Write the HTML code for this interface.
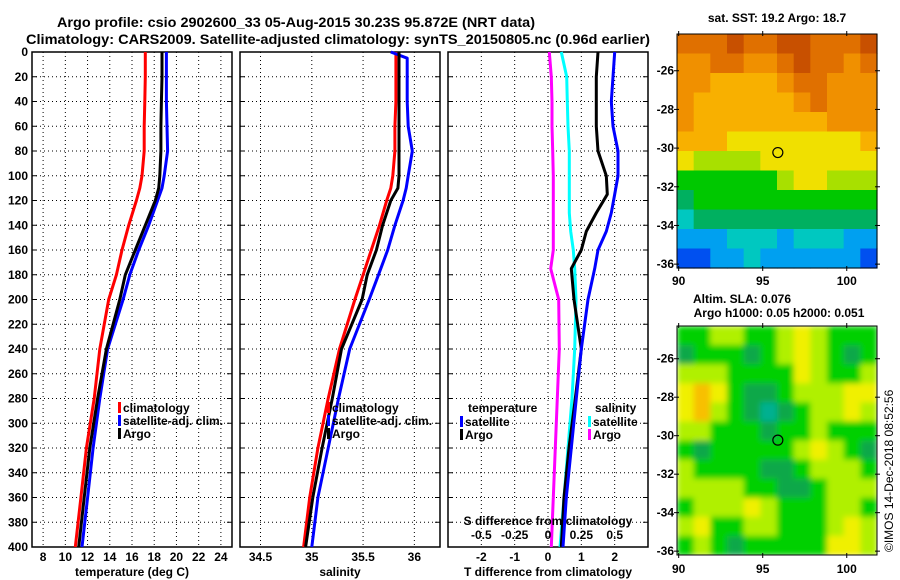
<!DOCTYPE html>
<html><head><meta charset="utf-8"><style>
html,body{margin:0;padding:0;background:#fff;}
svg{display:block;font-family:"Liberation Sans",sans-serif;font-weight:bold;}
</style></head><body>
<svg id="fig" width="900" height="580" viewBox="0 0 900 580" xmlns="http://www.w3.org/2000/svg">
<defs>
<filter id="smooth" x="-5%" y="-5%" width="110%" height="110%"><feGaussianBlur stdDeviation="3" edgeMode="duplicate"/></filter>
<clipPath id="slaClip"><rect x="677" y="326" width="200" height="229"/></clipPath>
</defs>
<text x="57" y="27" font-size="14" textLength="478" lengthAdjust="spacingAndGlyphs">Argo profile: csio 2902600_33 05-Aug-2015 30.23S 95.872E (NRT data)</text>
<text x="26" y="44" font-size="14" textLength="624" lengthAdjust="spacingAndGlyphs">Climatology: CARS2009. Satellite-adjusted climatology: synTS_20150805.nc (0.96d earlier)</text>
<text x="777" y="22" font-size="12" text-anchor="middle">sat. SST: 19.2 Argo: 18.7</text>
<text x="742" y="303" font-size="12" text-anchor="middle">Altim. SLA: 0.076</text>
<text x="779" y="317" font-size="12" text-anchor="middle">Argo h1000: 0.05 h2000: 0.051</text>
<text transform="translate(893,552) rotate(-90)" font-size="12" font-weight="normal">©IMOS 14-Dec-2018 08:52:56</text>
</svg>
<script>
// ---- data ----
const depths=[0,20,40,60,80,100,110,120,140,160,180,200,240,280,320,360,400];
const tempClim=[17.2,17.2,17.15,17.1,17.1,16.9,16.7,16.4,15.7,15.1,14.6,13.9,13.1,12.6,11.9,11.4,10.9];
const tempSat=[19.1,19.1,19.1,19.15,19.2,18.9,18.7,18.3,17.5,16.6,15.8,15.2,13.8,13.1,12.5,12.0,11.5];
const tempArgo=[18.7,18.7,18.65,18.6,18.6,18.5,18.4,18.1,17.2,16.3,15.4,14.9,13.7,12.9,12.2,11.7,11.2];
const depthsS=[0,5,20,40,60,80,100,110,120,140,160,180,200,240,280,320,360,400];
const salClim=[35.82,35.82,35.82,35.82,35.81,35.81,35.79,35.77,35.73,35.66,35.58,35.50,35.42,35.27,35.16,35.06,34.98,34.92];
const salSat=[35.77,35.93,35.93,35.93,35.94,35.98,35.94,35.92,35.89,35.81,35.74,35.65,35.56,35.37,35.26,35.16,35.06,35.00];
const salArgo=[35.85,35.85,35.85,35.85,35.85,35.85,35.85,35.84,35.77,35.69,35.63,35.54,35.49,35.29,35.20,35.10,35.01,34.94];
const dDepths=[0,20,40,60,80,100,115,130,145,160,175,200,240,280,320,360,400];
const dTSat=[2.0,1.95,1.9,1.95,2.1,2.1,2.0,1.9,1.75,1.5,1.4,1.2,1.0,0.85,0.7,0.55,0.45];
const dTArgo=[1.5,1.45,1.45,1.45,1.5,1.75,1.78,1.45,1.15,1.0,0.7,0.78,1.0,0.82,0.63,0.48,0.4];
const dSSat=[0.10,0.14,0.145,0.15,0.16,0.16,0.16,0.16,0.17,0.19,0.2,0.21,0.2,0.18,0.15,0.12,0.09];
const dSArgo=[0.01,0.025,0.03,0.03,0.035,0.04,0.04,0.04,0.04,0.04,0.02,0.08,0.085,0.07,0.055,0.04,0.025];
const depthTicks=[0,20,40,60,80,100,120,140,160,180,200,220,240,260,280,300,320,340,360,380,400];
const tempTicks=[8,10,12,14,16,18,20,22,24];
const salTicks=[34.5,35,35.5,36];
const salTickLabels=["34.5","35","35.5","36"];
const dTTicks=[-2,-1,0,1,2];
const dSTicks=[-0.5,-0.25,0,0.25,0.5];
const dSTickLabels=["-0.5","-0.25","0","0.25","0.5"];
const lonTicks=[90,95,100];
const latTicks=[-26,-28,-30,-32,-34,-36];
const argoLon=95.9, argoLat=-30.23;
const sstGrid=[
[10,10,10,11,10,10,11,11,10,10,10,11],
[9,9,10,10,9,9,10,11,10,10,9,10],
[9,9,8,8,8,8,9,10,10,9,9,9],
[9,8,8,8,8,8,8,9,10,9,9,9],
[9,8,8,8,8,8,8,8,8,9,9,9],
[8,8,8,7,7,7,7,7,7,7,7,8],
[7,6,6,6,6,7,7,7,7,7,7,7],
[5,5,5,5,5,5,6,7,7,6,6,6],
[4,5,5,5,5,5,5,5,5,5,5,5],
[3,4,4,4,4,4,4,4,4,4,4,4],
[2,2,2,3,3,3,2,3,3,3,2,2],
[1,1,2,2,3,2,2,2,2,2,2,1]];
const slaGrid=[
[5,5,6,6,5,5,6,7,6,5,5,5],
[4,5,5,5,4,5,6,7,6,5,4,5],
[6,6,6,5,5,5,5,7,6,5,5,6],
[7,8,7,5,4,4,5,6,6,6,7,7],
[7,8,6,5,4,3,4,5,6,6,7,6],
[6,6,5,5,5,4,5,5,6,5,5,5],
[5,4,5,5,5,5,5,6,7,6,5,4],
[6,5,5,5,5,4,4,5,6,6,6,5],
[6,6,6,6,5,5,4,4,5,6,6,6],
[5,6,6,6,7,6,5,5,5,6,6,5],
[6,7,5,5,6,6,5,5,5,6,7,6],
[5,6,5,4,5,5,5,5,5,7,7,6]];
const sstColors=["#0010a0","#0050f0","#00a0f0","#00c8c0","#00b060","#00c800","#a8e000","#f0e000","#f8b000","#f09000","#e07000","#c85000"];
const slaColors=["#00b0a0","#00b0a0","#00b0a0","#00b090","#10a848","#00d000","#b0f000","#f0f000","#f8c000","#f8c000","#f8c000","#f8c000"];

// ---- drawing ----
const NS="http://www.w3.org/2000/svg";
const svg=document.getElementById('fig');
function mk(tag,attrs,parent){const e=document.createElementNS(NS,tag);for(const k in attrs)e.setAttribute(k,attrs[k]);(parent||svg).appendChild(e);return e;}
function txt(s,x,y,size,anchor,parent){const t=mk('text',{x:x,y:y,'font-size':size,'text-anchor':anchor||'start'},parent);t.textContent=s;return t;}
const top0=52,bot=547;
const yD=d=>top0+(d/400)*(bot-top0);
function lin(d0,d1,r0,r1){return v=>r0+(v-d0)/(d1-d0)*(r1-r0);}
const panels=[
 {name:'temperature-panel',x0:32,x1:232,dom:[7,25],ticks:tempTicks,labels:tempTicks.map(String),title:'temperature (deg C)'},
 {name:'salinity-panel',x0:240,x1:440,dom:[34.3,36.25],ticks:salTicks,labels:salTickLabels,title:'salinity'},
 {name:'difference-panel',x0:448,x1:648,dom:[-3,3],ticks:dTTicks,labels:dTTicks.map(String),title:'T difference from climatology'}];
panels.forEach((p,pi)=>{
 const g=mk('g',{});
 
 
 p.x=lin(p.dom[0],p.dom[1],p.x0,p.x1);
 depthTicks.forEach(d=>{const l=mk('line',{x1:p.x0,x2:p.x1,y1:yD(d),y2:yD(d),stroke:'#000','stroke-width':1,'stroke-dasharray':'1,3'},g);
  
  mk('line',{x1:p.x1,x2:p.x1-5,y1:yD(d),y2:yD(d),stroke:'#000'},g);
  mk('line',{x1:p.x0,x2:p.x0+5,y1:yD(d),y2:yD(d),stroke:'#000'},g);
  if(pi===0){const t=txt(String(d),28,yD(d)+4,12,'end',g);}
 });
 p.ticks.forEach((v,i)=>{const X=p.x(v);
  const l=mk('line',{x1:X,x2:X,y1:top0,y2:bot,stroke:'#000','stroke-width':1,'stroke-dasharray':'1,3'},g);
  
  const t=txt(p.labels[i],X,561,12,'middle',g);
  
 });
 const r=mk('rect',{x:p.x0,y:top0,width:p.x1-p.x0,height:bot-top0,fill:'none',stroke:'#000','stroke-width':1.5},g);
 
 const at=txt(p.title,(p.x0+p.x1)/2,576,12,'middle',g);
 
});
function series(xf,vals,ds,color,name){
 const pts=vals.map((v,i)=>xf(v).toFixed(1)+','+yD(ds[i]).toFixed(1)).join(' ');
 const pl=mk('polyline',{points:pts,fill:'none',stroke:color,'stroke-width':3,'stroke-linejoin':'round'});
 
 
}
const P=panels;
series(P[0].x,tempClim,depths,'#f00','temp-climatology-line');
series(P[0].x,tempSat,depths,'#00f','temp-satellite-line');
series(P[0].x,tempArgo,depths,'#000','temp-argo-line');
series(P[1].x,salClim,depthsS,'#f00','sal-climatology-line');
series(P[1].x,salSat,depthsS,'#00f','sal-satellite-line');
series(P[1].x,salArgo,depthsS,'#000','sal-argo-line');
const xS=lin(-0.75,0.75,448,648);
series(xS,dSArgo,dDepths,'#f0f','s-diff-argo-line');
series(xS,dSSat,dDepths,'#0ff','s-diff-satellite-line');
series(P[2].x,dTArgo,dDepths,'#000','t-diff-argo-line');
series(P[2].x,dTSat,dDepths,'#00f','t-diff-satellite-line');
{const t=txt('S difference from climatology',548,525,12,'middle');}
dSTicks.forEach((v,i)=>{const t=txt(dSTickLabels[i],xS(v),539,12,'middle');
 });
function legend(x,y,color,label,name){
 const g=mk('g',{});
 
 
 mk('rect',{x:x,y:y-10,width:3,height:11,fill:color},g);
 txt(label,x+5,y,12,'start',g);
}
legend(118,412,'#f00','climatology','legend-climatology');
legend(118,425,'#00f','satellite-adj. clim.','legend-satellite-adj');
legend(118,438,'#000','Argo','legend-argo');
legend(327,412,'#f00','climatology','legend-sal-climatology');
legend(327,425,'#00f','satellite-adj. clim.','legend-sal-satellite-adj');
legend(327,438,'#000','Argo','legend-sal-argo');
{const t=txt('temperature',468,412,12);}
legend(460,426,'#00f','satellite','legend-t-satellite');
legend(460,439,'#000','Argo','legend-t-argo');
{const t=txt('salinity',595,412,12);}
legend(588,426,'#0ff','satellite','legend-s-satellite');
legend(588,439,'#f0f','Argo','legend-s-argo');
function map(name,y0,y1,grid,colors,latTop,labelY,smooth){
 const x0=677,x1=877;
 const g=mk('g',{});
 
 
 const lonX=lin(89.9,101.8,x0,x1);
 const latY=lin(latTop,-36.2,y0,y1);
 const rows=grid.length, cols=grid[0].length;
 const cw=(x1-x0)/cols, ch=(y1-y0)/rows;
 let cg=g;
 if(smooth){const clip=mk('g',{'clip-path':'url(#slaClip)'},g);cg=mk('g',{filter:'url(#smooth)'},clip);}
 grid.forEach((row,ri)=>row.forEach((v,ci)=>{
  const c=mk('rect',{x:(x0+ci*cw).toFixed(2),y:(y0+ri*ch).toFixed(2),width:(cw+0.6).toFixed(2),height:(ch+0.6).toFixed(2),fill:colors[v]},cg);
  
  
 }));
 mk('rect',{x:x0,y:y0,width:x1-x0,height:y1-y0,fill:'none',stroke:'#000','stroke-width':1},g);
 latTicks.forEach(l=>{const Y=latY(l);
  mk('line',{x1:x0-3,x2:x0+2,y1:Y,y2:Y,stroke:'#000'},g);
  mk('line',{x1:x1-2,x2:x1+3,y1:Y,y2:Y,stroke:'#000'},g);
  const t=txt(String(l),674,Y+4,12,'end',g);
  });
 lonTicks.forEach(l=>{const X=lonX(l);
  mk('line',{x1:X,x2:X,y1:y0-3,y2:y0+2,stroke:'#000'},g);
  mk('line',{x1:X,x2:X,y1:y1-2,y2:y1+3,stroke:'#000'},g);
  const t=txt(String(l),X,labelY,12,'middle',g);
  });
 const m=mk('circle',{cx:lonX(argoLon),cy:latY(argoLat),r:5,fill:'none',stroke:'#000','stroke-width':1.2},g);
 
 
}
map('sst-map',34,268,sstGrid,sstColors,-24.1,285,false);
map('sla-map',326,555,slaGrid,slaColors,-24.3,573,true);
</script>
</body></html>
